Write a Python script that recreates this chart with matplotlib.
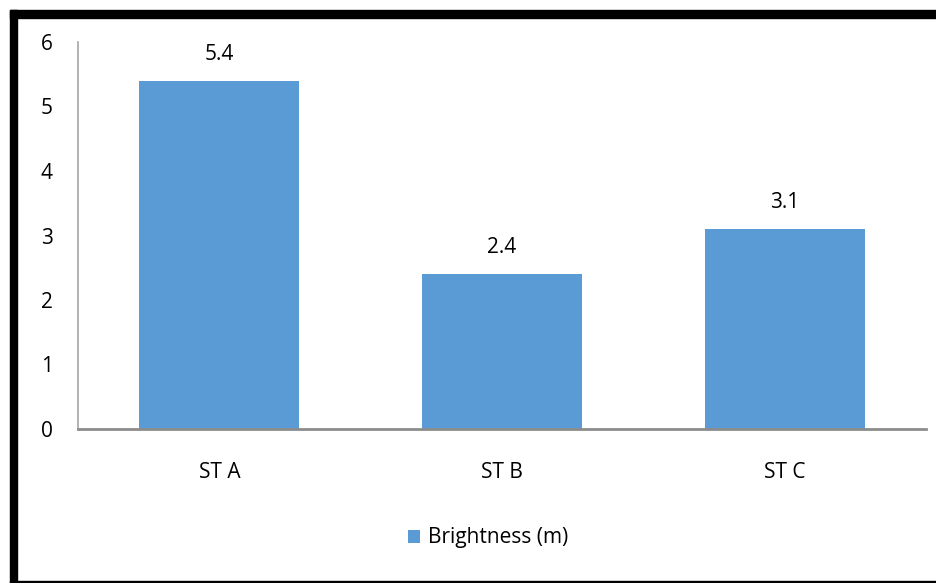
import numpy as np
import matplotlib.pyplot as plt
from matplotlib.patches import Rectangle

# brightness per station
stations = ["ST A", "ST B", "ST C"]
brightness = [5.4, 2.4, 3.1]
y_ticks = [0, 1, 2, 3, 4, 5, 6]

plt.rcParams['font.family'] = ['Open Sans', 'DejaVu Sans']
fs = 15

fig = plt.figure(figsize=(9.37, 5.83), dpi=100)
W, H = 937, 583
ax = fig.add_axes([78 / W, 1 - 429 / H, (926 - 78) / W, (429 - 42) / H])

x = np.arange(len(stations))
bars = ax.bar(x, brightness, width=0.566, color="#5B9BD5", label="Brightness (m)", zorder=2)
for b, v in zip(bars, brightness):
    ax.annotate(f"{v}", (b.get_x() + b.get_width() / 2, v), xytext=(0, 19),
                textcoords="offset points", ha="center", va="center", fontsize=fs)

ax.set_xlim(-0.5, 2.5)
ax.set_ylim(0, 6)
ax.set_yticks(y_ticks)
ax.set_xticks(x)
ax.set_xticklabels(stations)
ax.tick_params(axis="y", length=0, pad=18, labelsize=fs)
ax.tick_params(axis="x", length=0, pad=24, labelsize=fs)
for s in ["top", "right"]:
    ax.spines[s].set_visible(False)
ax.spines["left"].set_color("#a6a6a6")
ax.spines["left"].set_linewidth(1.2)
ax.spines["bottom"].set_color("#8c8c8c")
ax.spines["bottom"].set_linewidth(2)

fig.legend(handles=[bars], labels=["Brightness (m)"], loc="center",
           bbox_to_anchor=(488 / W, 1 - 538 / H), frameon=False, fontsize=fs,
           handlelength=0.6, handleheight=0.6, handletextpad=0.35)

# black frame along top, left and bottom
fig.patches.append(Rectangle((10 / W, 1 - 18 / H), 1, 8 / H, transform=fig.transFigure,
                             color="black", zorder=5))
fig.patches.append(Rectangle((10 / W, 0), 7 / W, 1 - 10 / H, transform=fig.transFigure,
                             color="black", zorder=5))
fig.patches.append(Rectangle((10 / W, 0), 1, 2 / H, transform=fig.transFigure,
                             color="black", zorder=5))

fig.savefig("out.png", dpi=100)
